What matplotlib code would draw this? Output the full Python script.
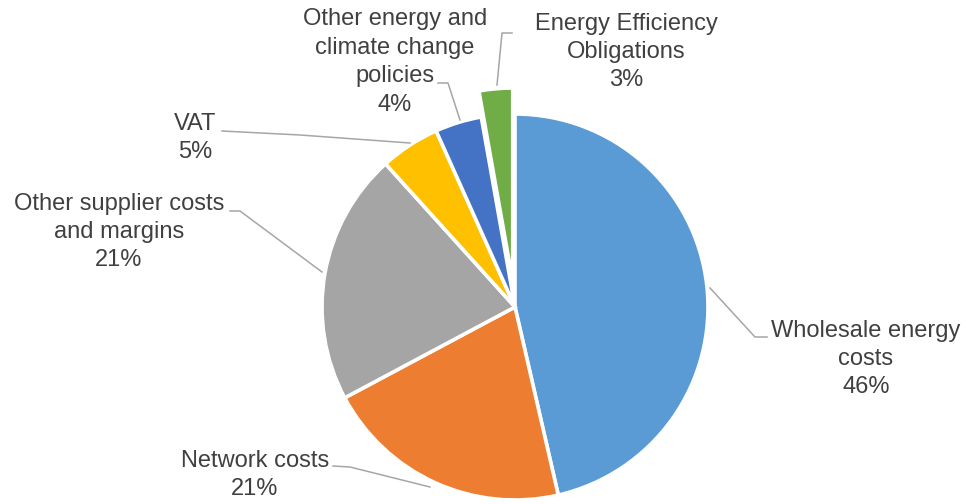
import matplotlib
matplotlib.use("Agg")
import matplotlib.pyplot as plt

categories = ["Wholesale energy\ncosts", "Network costs", "Other supplier costs\nand margins",
              "VAT", "Other energy and\nclimate change\npolicies", "Energy Efficiency\nObligations"]
values = [46.4, 20.8, 21.1, 5.0, 3.9, 2.8]
label_pct = ["46%", "21%", "21%", "5%", "4%", "3%"]
colors = ["#5B9BD5", "#ED7D31", "#A5A5A5", "#FFC000", "#4472C4", "#70AD47"]

W, H = 966, 504
fig = plt.figure(figsize=(W / 100, H / 100), dpi=100)
ax = fig.add_axes([0, 0, 1, 1])

def Y(y):
    return H - y

cx, cy, r = 515, 307, 193
explode_frac = [0, 0, 0, 0, 0, 0.135]
ax.pie(values, colors=colors, startangle=90, counterclock=False, center=(cx, Y(cy)),
       radius=r, explode=[e * r for e in explode_frac],
       wedgeprops=dict(edgecolor="white", linewidth=2.6), frame=True)
ax.set_xlim(0, W)
ax.set_ylim(0, H)
ax.set_aspect("equal")
ax.axis("off")

# label positions (pixel, image coords) and leader lines
label_pos = [(866, 359), (255, 475), (119, 232), (195, 138), (395, 62), (626, 52)]
leaders = [
    [(710, 288), (755, 337), (767, 337)],
    [(333, 466), (350, 467), (430, 487)],
    [(230, 211), (240, 211), (322, 272)],
    [(222, 131), (300, 135), (410, 143)],
    [(438, 83), (448, 83), (460, 120)],
    [(512, 33), (502, 33), (497, 85)],
]

for cat, pct, (x, y) in zip(categories, label_pct, label_pos):
    ax.text(x, Y(y), f"{cat}\n{pct}", ha="center", va="center", fontsize=17,
            family="Liberation Sans", color="#404040", linespacing=1.38)

for pts in leaders:
    xs = [p[0] for p in pts]
    ys = [Y(p[1]) for p in pts]
    ax.plot(xs, ys, color="#A6A6A6", linewidth=1.1)

fig.savefig("out.png", dpi=100, facecolor="white")
